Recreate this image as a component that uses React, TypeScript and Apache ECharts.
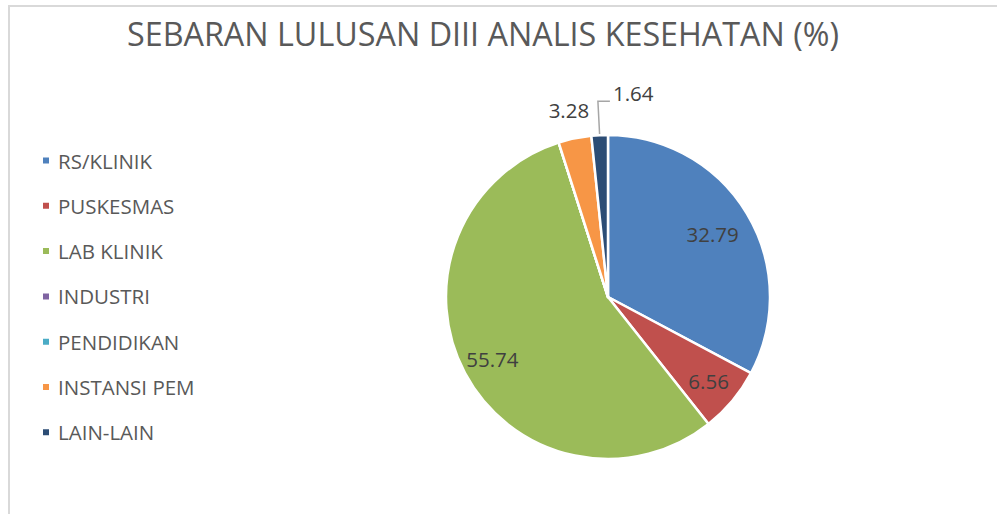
import React, { useEffect, useRef } from "react";
import * as echarts from "echarts";

const titleText = "SEBARAN LULUSAN DIII ANALIS KESEHATAN (%)";
const categories = ["RS/KLINIK", "PUSKESMAS", "LAB KLINIK", "INDUSTRI", "PENDIDIKAN", "INSTANSI PEM", "LAIN-LAIN"];
const values = [32.79, 6.56, 55.74, 0, 0, 3.28, 1.64];
const colors = ["#4F81BD", "#C0504D", "#9BBB59", "#8064A2", "#4BACC6", "#F79646", "#2C4D75"];

const FONT = "'Open Sans', sans-serif";
const CENTER = [608, 297];
const R = 162;

function overlay(radius: number[], shown: string[]) {
  return {
    type: "pie",
    silent: true,
    center: CENTER,
    radius,
    startAngle: 90,
    avoidLabelOverlap: false,
    z: 5,
    itemStyle: { color: "transparent", borderWidth: 0 },
    labelLine: { show: false },
    emphasis: { disabled: true },
    data: categories.map((name, i) => ({
      name,
      value: values[i],
      label: {
        show: shown.indexOf(name) >= 0 && values[i] > 0,
        position: "inside",
        formatter: (p: any) => String(p.value),
        fontFamily: FONT,
        fontSize: 20.5,
        color: "#404040",
      },
    })),
  };
}

export default function App() {
  const ref = useRef<HTMLDivElement>(null);
  useEffect(() => {
    if (!ref.current) return;
    const chart = echarts.init(ref.current, undefined, { renderer: "svg" });
    const option: any = {
      animation: false,
      backgroundColor: "#ffffff",
      title: {
        text: titleText,
        left: 127,
        top: 17,
        padding: 0,
        textStyle: { fontFamily: FONT, fontSize: 32.3, fontWeight: "normal", color: "#595959" },
      },
      legend: {
        orient: "vertical",
        left: 41,
        top: 150,
        itemWidth: 8,
        itemHeight: 8,
        itemGap: 24.3,
        icon: "rect",
        padding: 0,
        selectedMode: false,
        textStyle: { fontFamily: FONT, fontSize: 20.5, color: "#595959", lineHeight: 21, padding: [0, 0, 0, 3] },
        data: categories.map((name, i) => ({ name, itemStyle: { color: colors[i] } })),
      },
      graphic: [
        {
          type: "rect",
          shape: { x: 9, y: 6, width: 1100, height: 700 },
          style: { fill: "none", stroke: "#D9D9D9", lineWidth: 2 },
          silent: true,
        },
      ],
      series: [
        {
          type: "pie",
          center: CENTER,
          radius: R,
          startAngle: 90,
          avoidLabelOverlap: false,
          z: 2,
          emphasis: { disabled: true },
          itemStyle: { borderColor: "#ffffff", borderWidth: 2.5 },
          label: { show: false },
          labelLine: { show: false },
          labelLayout: (params: any) => {
            if (params.seriesIndex !== 0 || params.dataIndex !== 6) return {};
            const pts = params.labelLinePoints;
            if (!pts) return {};
            const p0 = pts[0];
            const p1 = pts[1];
            const endX = p1[0] + 12;
            return {
              x: endX + 3,
              y: p1[1] - 8,
              align: "left",
              verticalAlign: "middle",
              labelLinePoints: [p0, p1, [endX, p1[1]]],
            };
          },
          data: categories.map((name, i) => ({
            name,
            value: values[i],
            itemStyle: { color: colors[i] },
            label:
              i === 6
                ? {
                    show: true,
                    position: "outside",
                    formatter: (p: any) => String(p.value),
                    fontFamily: FONT,
                    fontSize: 20.5,
                    color: "#404040",
                  }
                : { show: false },
            labelLine:
              i === 6
                ? { show: true, length: 34, length2: 12, smooth: false, lineStyle: { color: "#A6A6A6", width: 1.5 } }
                : { show: false },
          })),
        },
        overlay([94, 144], ["RS/KLINIK"]),
        overlay([100, 156], ["PUSKESMAS", "LAB KLINIK"]),
        overlay([176, 200], ["INSTANSI PEM"]),
      ],
    };
    chart.setOption(option);
    return () => chart.dispose();
  }, []);
  return (
    <div
      ref={ref}
      style={{ position: "absolute", left: 0, top: 0, width: 997, height: 514 }}
    />
  );
}
